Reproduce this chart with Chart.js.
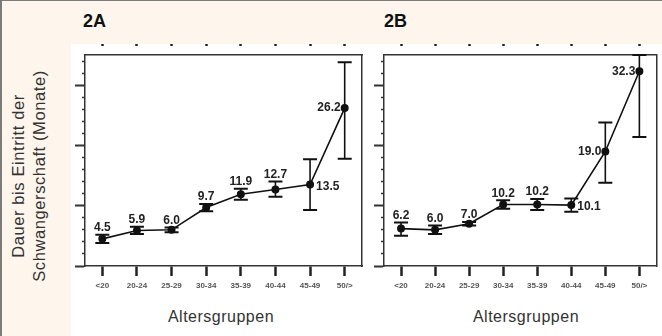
<!DOCTYPE html>
<html>
<head>
<meta charset="utf-8">
<script src="https://cdn.jsdelivr.net/npm/chart.js@4.4.1/dist/chart.umd.min.js"></script>
<style>
  html, body { margin: 0; padding: 0; }
  body {
    width: 662px; height: 336px; overflow: hidden; position: relative;
    background: #fef5ec; font-family: "Liberation Sans", Arial, sans-serif;
  }
  #frame { position: absolute; left: 0; top: 0; width: 660px; height: 335px;
    border-left: 2px solid #7b7b7b; border-top: 1px solid #7b7b7b; }
  #panel { position: absolute; left: 71px; top: 44px; width: 591px; height: 292px; background: #fff; }
  .tag { position: absolute; top: 11px; font-weight: bold; font-size: 18px; color: #111; }
  .xtitle { position: absolute; top: 308px; width: 160px; text-align: center;
    font-size: 16px; letter-spacing: 0.5px; color: #333; }
  #ytitle { position: absolute; left: -81px; top: 155px; width: 220px; height: 42px;
    transform: rotate(-90deg); text-align: center; font-size: 16.5px; line-height: 21px;
    letter-spacing: 0.6px; color: #333; }
  .wrap { position: absolute; top: 44px; height: 256px; }
</style>
</head>
<body>
<div id="frame"></div>
<div id="panel"></div>
<div class="tag" style="left:83px">2A</div>
<div class="tag" style="left:384px">2B</div>
<div id="ytitle">Dauer bis Eintritt der<br>Schwangerschaft (Monate)</div>
<div class="xtitle" style="left:141px">Altersgruppen</div>
<div class="xtitle" style="left:446px">Altersgruppen</div>
<div class="wrap" style="left:71px;width:299px"><canvas id="chartA"></canvas></div>
<div class="wrap" style="left:370px;width:292px"><canvas id="chartB"></canvas></div>

<script>
  // Altersgruppen
  const ageGroups = ['<20', '20-24', '25-29', '30-34', '35-39', '40-44', '45-49', '50/>'];

  // 2A: Mittelwert + Fehlerbalken (Monate)
  const meanA = [4.5, 5.9, 6.0, 9.7, 11.9, 12.7, 13.5, 26.2];
  const lowA  = [3.8, 5.3, 5.6, 9.1, 11.0, 11.5, 9.3, 17.8];
  const highA = [5.2, 6.5, 6.4, 10.3, 12.8, 14.0, 17.7, 33.8];

  // 2B
  const meanB = [6.2, 6.0, 7.0, 10.2, 10.2, 10.1, 19.0, 32.3];
  const lowB  = [5.0, 5.3, 6.7, 9.5, 9.3, 9.0, 13.8, 21.4];
  const highB = [7.2, 6.7, 7.3, 10.9, 11.1, 11.2, 23.8, 35.0];

  // y axis: 0..35, major every 10, minor every 2
  const yMin = 0, yMax = 35, yMajor = 10, yMinor = 2;

  // where the value label sits relative to its point
  const sidesA = ['t', 't', 't', 't', 't', 't', 'r', 'l'];
  const sidesB = ['t', 't', 't', 't', 't', 'r', 'l', 'l'];

  const INK = '#111';

  function errorBarPlugin(low, high, means, sides) {
    return {
      id: 'errorBars',
      afterDatasetsDraw(chart) {
        const { ctx } = chart;
        const xs = chart.scales.x, ys = chart.scales.y;
        ctx.save();
        ctx.strokeStyle = INK;
        low.forEach((lo, i) => {
          const px = xs.getPixelForValue(i);
          const yLo = ys.getPixelForValue(lo);
          const yHi = ys.getPixelForValue(high[i]);
          ctx.lineWidth = 1.6;
          ctx.beginPath();
          ctx.moveTo(px, yLo); ctx.lineTo(px, yHi);
          ctx.stroke();
          ctx.lineWidth = 2;
          ctx.beginPath();
          ctx.moveTo(px - 7, yLo); ctx.lineTo(px + 7, yLo);
          ctx.moveTo(px - 7, yHi); ctx.lineTo(px + 7, yHi);
          ctx.stroke();

          // value label
          const py = ys.getPixelForValue(means[i]);
          const txt = means[i].toFixed(1);
          ctx.fillStyle = '#222';
          ctx.font = 'bold 12px "Liberation Sans", Arial, sans-serif';
          if (sides[i] === 't') {
            ctx.textAlign = 'center'; ctx.textBaseline = 'bottom';
            ctx.fillText(txt, px, yHi - 1);
          } else if (sides[i] === 'r') {
            ctx.textAlign = 'left'; ctx.textBaseline = 'middle';
            ctx.fillText(txt, px + 6, py + 2);
          } else {
            ctx.textAlign = 'right'; ctx.textBaseline = 'middle';
            ctx.fillText(txt, px - 4, py);
          }
        });
        ctx.restore();
      }
    };
  }

  function makeChart(id, means, low, high, sides, rightWidth) {
    const canvas = document.getElementById(id);
    return new Chart(canvas.getContext('2d'), {
      type: 'line',
      data: {
        labels: ageGroups,
        datasets: [{
          data: means,
          borderColor: INK,
          borderWidth: 1.6,
          pointRadius: 3.2,
          pointBackgroundColor: INK,
          pointBorderColor: INK,
          tension: 0
        }]
      },
      options: {
        responsive: true,
        maintainAspectRatio: false,
        animation: false,
        layout: { padding: 0 },
        plugins: { legend: { display: false }, tooltip: { enabled: false } },
        scales: {
          x: {
            type: 'category', position: 'bottom', offset: true,
            grid: { drawOnChartArea: false, tickLength: 10, tickWidth: 2.5, tickColor: '#222' },
            border: { display: true, color: '#333', width: 1.5 },
            ticks: { padding: 5, color: '#555', maxRotation: 0, autoSkip: false,
              font: { size: 8, weight: 'bold', family: '"Liberation Sans", Arial, sans-serif' } },
            afterFit: s => { s.height = 34; }
          },
          x2: {
            type: 'category', position: 'top', offset: true,
            grid: { drawOnChartArea: false, tickLength: 11, tickWidth: 2.5, tickColor: '#222',
              tickBorderDash: [2, 30] },
            border: { display: true, color: '#333', width: 1.5 },
            ticks: { display: false },
            afterFit: s => { s.height = 11; }
          },
          y: {
            type: 'linear', position: 'left', min: yMin, max: yMax,
            grid: {
              drawOnChartArea: false, tickLength: 10, tickColor: '#333',
              tickWidth: c => (c.tick && c.tick.value % yMajor === 0) ? 2 : 1.5,
              tickBorderDash: c => (c.tick && c.tick.value % yMajor === 0) ? [] : [0, 7, 3, 0]
            },
            border: { display: true, color: '#333', width: 1.5 },
            ticks: { display: false, stepSize: yMinor, includeBounds: false },
            afterFit: s => { s.width = 14; }
          },
          y2: {
            type: 'linear', position: 'right', min: yMin, max: yMax,
            grid: { drawOnChartArea: false, drawTicks: false },
            border: { display: true, color: '#333', width: 1.5 },
            ticks: { display: false },
            afterFit: s => { s.width = rightWidth; }
          }
        }
      },
      plugins: [errorBarPlugin(low, high, means, sides)]
    });
  }

  window.addEventListener('DOMContentLoaded', () => {
    makeChart('chartA', meanA, lowA, highA, sidesA, 8);
    makeChart('chartB', meanB, lowB, highB, sidesB, 1);
  });
</script>
</body>
</html>
